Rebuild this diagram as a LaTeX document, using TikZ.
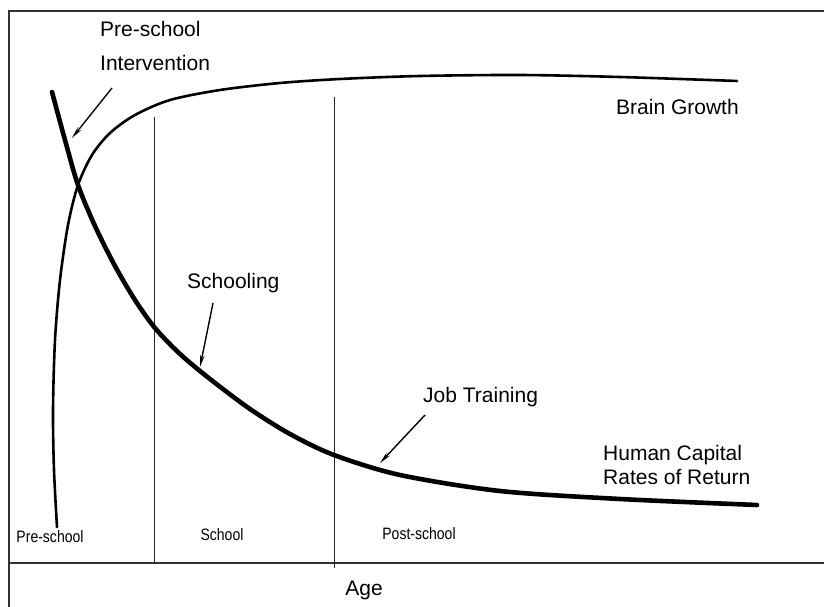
\documentclass[tikz,border=0pt]{standalone}
\usepackage{fontspec}
\setmainfont{Liberation Sans}
\usetikzlibrary{arrows.meta,positioning}
\tikzset{
biglabel/.style={inner sep=0pt,align=left,font=\fontsize{21}{24}\selectfont},
phase/.style={inner sep=0pt,xscale=0.85,font=\fontsize{16.5}{18}\selectfont},
frame/.style={line width=1.1pt,black!80},
divider/.style={line width=0.8pt,black!85},
curve/.style={line cap=round,line join=round,smooth},
pointer/.style={->,line width=1.4pt}
}

\begin{document}
\begin{tikzpicture}[x=1pt,y=-1pt,>={Stealth[length=12pt,width=4.5pt]}]
\useasboundingbox (0,0) rectangle (824,607);

% outer frame and age axis
\coordinate (tl) at (9,11);
\coordinate (tr) at (824,11);
\coordinate (bl) at (9,607);
\draw[frame] (bl) -- (tl) -- (tr);
\draw[frame] (9,563) coordinate (al) -- (824,563) coordinate (ar);

% phase dividers
\draw[divider] (154,117) coordinate (d1) -- (154,563);
\draw[divider] (334,97) coordinate (d2) -- (334,568);

% brain growth curve
\draw[curve,line width=2.6pt] plot coordinates {(57,527) (54,470) (53,410) (55,340) (60,280) (68,225) (78,185) (92,155) (110,133) (135,115) (170,100) (220,90) (280,83) (340,79) (420,76) (520,75) (620,77) (737,81)};

% rates of return curve
\draw[curve,line width=4.6pt] plot coordinates {(52,92) (65,140) (78,185) (95,226) (115,266) (135,300) (155,328) (180,354) (210,379) (250,409) (290,434) (334,455) (400,475) (500,491) (620,499) (757,505)};

% labels
\node[biglabel,anchor=west] (interv) at (100,46) {Pre-school\\[10pt]Intervention};
\node[biglabel,anchor=west] (brain) at (616,107) {Brain Growth};
\node[biglabel,anchor=west] (school) at (187,283) {Schooling};
\node[biglabel,anchor=west] (job) at (423,397) {Job Training};
\node[biglabel,anchor=west] (hcap) at (603,465) {Human Capital\\Rates of Return};
\node[biglabel] (age) at (364,590) {Age};

\node[phase] (p1) at (50,537) {Pre-school};
\node[phase] (p2) at (222,535) {School};
\node[phase] (p3) at (419,534) {Post-school};

% pointers onto the curve
\coordinate (a1) at (112,88);  \coordinate (t1) at (72,138);
\coordinate (a2) at (213,303); \coordinate (t2) at (200,367);
\coordinate (a3) at (425,415); \coordinate (t3) at (380,463);
\foreach \i in {1,2,3}
  \draw[pointer] (a\i) -- (t\i);

\end{tikzpicture}
\end{document}
